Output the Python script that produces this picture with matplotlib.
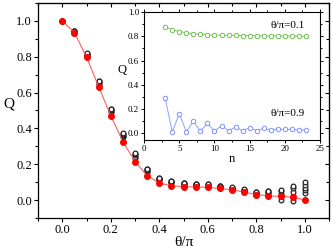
import matplotlib
matplotlib.use("Agg")
import matplotlib.pyplot as plt
from matplotlib.ticker import MultipleLocator

plt.rcParams["font.family"] = ["Liberation Serif", "DejaVu Serif"]

# main panel: theta/pi and Q
theta = [0.0, 0.05, 0.1, 0.15, 0.2, 0.25, 0.3, 0.35, 0.4, 0.45, 0.5,
         0.55, 0.6, 0.65, 0.7, 0.75, 0.8, 0.85, 0.9, 0.95, 1.0]
q_red = [1.0, 0.935, 0.798, 0.633, 0.471, 0.326, 0.215, 0.137, 0.095, 0.08, 0.075,
         0.073, 0.071, 0.065, 0.057, 0.045, 0.031, 0.024, 0.02, 0.017, 0.0]
# spread of the other system sizes (several rows, one value per theta)
q_low = [1.0, 0.935, 0.805, 0.645, 0.49, 0.35, 0.235, 0.155, 0.11, 0.095, 0.085,
         0.082, 0.078, 0.07, 0.062, 0.05, 0.035, 0.03, 0.0, -0.005, 0.04]
q_mid1 = [1.0, 0.938, 0.81, 0.652, 0.497, 0.358, 0.243, 0.162, 0.115, 0.099, 0.089,
          0.085, 0.081, 0.073, 0.065, 0.053, 0.038, 0.037, 0.02, 0.02, 0.055]
q_mid2 = [1.0, 0.941, 0.815, 0.658, 0.503, 0.366, 0.251, 0.168, 0.12, 0.102, 0.093,
          0.089, 0.085, 0.076, 0.068, 0.056, 0.041, 0.043, 0.035, 0.045, 0.07]
q_mid3 = [1.0, 0.943, 0.818, 0.662, 0.507, 0.371, 0.256, 0.172, 0.123, 0.104, 0.095,
          0.091, 0.087, 0.078, 0.070, 0.058, 0.043, 0.048, 0.05, 0.065, 0.085]
q_high = [1.0, 0.945, 0.82, 0.665, 0.51, 0.375, 0.26, 0.175, 0.125, 0.105, 0.097,
          0.092, 0.088, 0.08, 0.072, 0.06, 0.045, 0.05, 0.058, 0.08, 0.1]

# inset: Q versus n
n = list(range(3, 24))
q_01 = [0.877, 0.855, 0.84, 0.83, 0.823, 0.818, 0.814, 0.812, 0.81, 0.809, 0.808,
        0.807, 0.806, 0.805, 0.805, 0.804, 0.804, 0.803, 0.803, 0.802, 0.802]
q_09 = [0.289, 0.01, 0.16, 0.01, 0.097, 0.016, 0.079, 0.016, 0.062, 0.019, 0.05,
        0.019, 0.045, 0.02, 0.04, 0.025, 0.03, 0.03, 0.03, 0.025, 0.025]

fig = plt.figure(figsize=(3.32, 2.49), dpi=100)
ax = fig.add_axes([0.1145, 0.1245, 0.8765, 0.8635])

for row in [q_low, q_mid1, q_mid2, q_mid3, q_high]:
    ax.plot(theta, row, "o", ms=3.4, mfc="white", mec="#222222", mew=0.9, zorder=2)
ax.plot(theta, q_red, "-", color="#ff6060", lw=0.8, zorder=3)
ax.plot(theta, q_red, "o", ms=4.0, color="#ff0000", zorder=4)

ax.set_xlim(-0.1, 1.1)
ax.set_ylim(-0.1, 1.1)
ax.set_xticks([0.0, 0.2, 0.4, 0.6, 0.8, 1.0])
ax.set_yticks([0.0, 0.2, 0.4, 0.6, 0.8, 1.0])
ax.xaxis.set_minor_locator(MultipleLocator(0.1))
ax.yaxis.set_minor_locator(MultipleLocator(0.1))
ax.tick_params(which="major", direction="out", length=3, width=0.8, labelsize=9, pad=1.5)
ax.tick_params(which="minor", direction="out", length=2, width=0.8)
ax.set_xlabel("θ/π", fontsize=11, labelpad=0)
ax.set_ylabel("Q", fontsize=11, rotation=0, labelpad=5)
for s in ax.spines.values():
    s.set_linewidth(0.9)

# mirrored ticks pointing inwards on top and right
top = ax.secondary_xaxis("top")
right = ax.secondary_yaxis("right")
for sec in (top, right):
    sec.tick_params(which="major", direction="in", length=3, width=0.8)
    sec.tick_params(which="minor", direction="in", length=2, width=0.8)
top.set_xticks([0.0, 0.2, 0.4, 0.6, 0.8, 1.0])
top.xaxis.set_minor_locator(MultipleLocator(0.1))
top.set_xticklabels([])
right.set_yticks([0.0, 0.2, 0.4, 0.6, 0.8, 1.0])
right.yaxis.set_minor_locator(MultipleLocator(0.1))
right.set_yticklabels([])

# inset
ins = fig.add_axes([0.434, 0.439, 0.53, 0.512])
ins.plot(n, q_01, "-o", color="#80cc60", lw=0.7, ms=3.2, mfc="white", mec="#70c050", mew=0.7)
ins.plot(n, q_09, "-o", color="#8ea0ff", lw=0.7, ms=3.2, mfc="white", mec="#8090ff", mew=0.7)
ins.set_xlim(0, 25)
ins.set_ylim(-0.055, 1.0)
ins.xaxis.set_major_locator(MultipleLocator(5))
ins.xaxis.set_minor_locator(MultipleLocator(2.5))
ins.set_yticks([0.0, 0.2, 0.4, 0.6, 0.8, 1.0])
ins.yaxis.set_minor_locator(MultipleLocator(0.1))
ins.tick_params(which="both", direction="out", top=True, right=True, width=0.7,
                labelsize=6.5, pad=1)
ins.tick_params(which="major", length=2.5)
ins.tick_params(which="minor", length=1.5)
ins.set_xlabel("n", fontsize=9, labelpad=0)
ins.set_ylabel("Q", fontsize=9, rotation=0, labelpad=4)
for s in ins.spines.values():
    s.set_linewidth(0.8)
ins.text(20.4, 0.89, "θ/π=0.1", fontsize=8, ha="center", va="center")
ins.text(20.4, 0.16, "θ/π=0.9", fontsize=8, ha="center", va="center")

fig.savefig("out.png", dpi=100)
